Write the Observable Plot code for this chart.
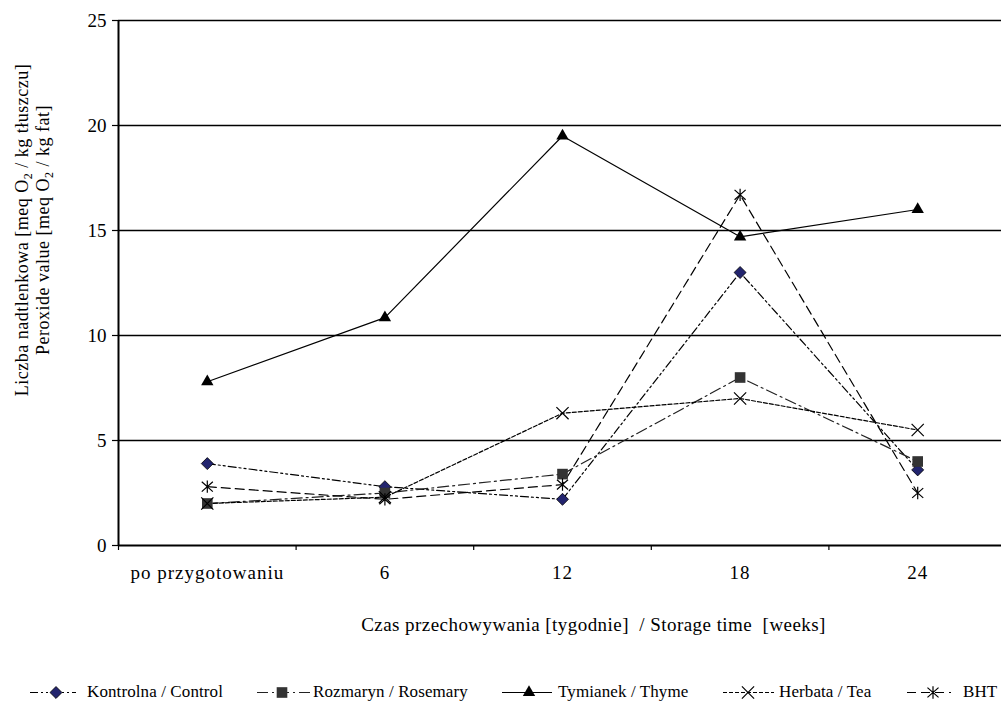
<!DOCTYPE html>
<html><head><meta charset="utf-8">
<script src="https://cdn.jsdelivr.net/npm/d3@7"></script>
<script src="https://cdn.jsdelivr.net/npm/@observablehq/plot@0.6"></script>
<style>
html,body{margin:0;padding:0;background:#fff;overflow:hidden;}
body{font-family:"Liberation Serif","Times New Roman",serif;color:#000;}
#wrap{position:relative;width:1001px;height:702px;overflow:hidden;}
#chart svg{max-width:none !important;}
#legend{position:absolute;left:0;top:678px;width:1001px;height:28px;}
.item{position:absolute;top:0;height:28px;display:flex;align-items:center;font-size:17px;white-space:nowrap;letter-spacing:0.1px;}
.item svg{display:block;}
</style></head><body>
<div id="wrap"><div id="chart"></div><div id="legend"></div></div>
<script>
// ---- data ----
const categories = ["po przygotowaniu", "6", "12", "18", "24"];
const seriesNames = ["Kontrolna / Control", "Rozmaryn / Rosemary", "Tymianek / Thyme", "Herbata / Tea", "BHT"];
const kontrolna = [3.9, 2.8, 2.2, 13.0, 3.6];
const rozmaryn  = [2.0, 2.5, 3.4, 8.0, 4.0];
const tymianek  = [7.8, 10.85, 19.5, 14.7, 16.0];
const herbata   = [2.0, 2.3, 6.3, 7.0, 5.5];
const bht       = [2.8, 2.2, 2.9, 16.7, 2.5];
const yTicks = [0, 5, 10, 15, 20, 25];
const xLabel = "Czas przechowywania [tygodnie]  / Storage time  [weeks]";

const FONT = '"Liberation Serif", "Times New Roman", serif';

// custom asterisk (vertical bar + X)
const asteriskX = {
  draw(ctx, size) {
    const r = Math.sqrt(size) * 0.56;
    ctx.moveTo(0, -r); ctx.lineTo(0, r);
    ctx.moveTo(-0.9 * r, -0.8 * r); ctx.lineTo(0.9 * r, 0.8 * r);
    ctx.moveTo(-0.9 * r, 0.8 * r); ctx.lineTo(0.9 * r, -0.8 * r);
  }
};

const styles = [
  {values: kontrolna, dash: "8,3,2,3,2,3", lineColor: "#000", symbol: "diamond2", r: 5.4, fill: "#22246e", stroke: "#000", sw: 0.8},
  {values: rozmaryn,  dash: "11,4,2,4",    lineColor: "#222", symbol: "square",   r: 6.0, fill: "#333333", stroke: "none", sw: 0},
  {values: tymianek,  dash: null,          lineColor: "#000", symbol: "triangle", r: 4.6, fill: "#000", stroke: "none", sw: 0},
  {values: herbata,   dash: "4,2",         lineColor: "#000", symbol: "times",    r: 5.6, fill: "none", stroke: "#000", sw: 1.2},
  {values: bht,       dash: "9,5",         lineColor: "#000", symbol: asteriskX,  r: 6.2, fill: "none", stroke: "#000", sw: 1.2}
];

const lineMarks = [], dotMarks = [];
styles.forEach((s, k) => {
  const rows = s.values.map((v, i) => ({i, v, name: seriesNames[k]}));
  lineMarks.push(Plot.line(rows, {x: "i", y: "v", stroke: s.lineColor, strokeWidth: 1.2, strokeDasharray: s.dash || undefined}));
  dotMarks.push(Plot.dot(rows, {x: "i", y: "v", symbol: () => s.symbol, r: s.r, fill: s.fill, stroke: s.stroke, strokeWidth: s.sw}));
});

const boundaries = d3.range(categories.length + 1).map(i => i - 0.5);

const plot = Plot.plot({
  width: 1007, height: 660,
  marginLeft: 118, marginRight: 1, marginTop: 20, marginBottom: 115,
  style: {fontFamily: FONT, fontSize: "18px", color: "#000", background: "#fff", maxWidth: "none"},
  x: {type: "linear", domain: [-0.5, categories.length - 0.5]},
  y: {domain: [0, 25]},
  marks: [
    Plot.ruleY(yTicks.filter(t => t > 0), {stroke: "#000", strokeWidth: 1.5}),
    ...lineMarks,
    ...dotMarks,
    Plot.ruleY([0], {stroke: "#000", strokeWidth: 2}),
    Plot.ruleX([-0.5], {stroke: "#000", strokeWidth: 2}),
    Plot.axisY({ticks: yTicks, tickSize: 6, tickPadding: 6, label: null, fontSize: 19, strokeWidth: 1.2}),
    Plot.axisX({ticks: d3.range(categories.length), tickSize: 0, tickPadding: 20, tickFormat: i => categories[i], label: null, fontSize: 19}),
    Plot.axisX({ticks: boundaries, tickSize: 5, tickFormat: () => "", label: null, strokeWidth: 1.2}),
    Plot.text([xLabel], {text: d => d, frameAnchor: "bottom", lineAnchor: "middle", dy: 79, dx: 31, fontSize: 19})
  ]
});
document.getElementById("chart").appendChild(plot);

const svg = d3.select(plot);
// widen text slightly to match the reference typesetting
svg.selectAll('g[aria-label="x-axis tick label"] text').style("letter-spacing", "1px");
svg.selectAll('g[aria-label="text"] text').style("letter-spacing", "0.45px");

// y-axis title with subscripts
const ylines = [
  {x: 28, parts: ["Liczba nadtlenkowa [meq O", "2", " / kg tłuszczu]"]},
  {x: 49, parts: ["Peroxide value [meq O", "2", " / kg fat]"]}
];
ylines.forEach(l => {
  const t = svg.append("text")
    .attr("transform", `translate(${l.x},230) rotate(-90)`)
    .attr("text-anchor", "middle")
    .attr("font-size", 18)
    .attr("fill", "#000")
    .attr("font-family", FONT)
    .style("letter-spacing", "0.5px");
  t.append("tspan").text(l.parts[0]);
  t.append("tspan").attr("font-size", 12).attr("dy", 4).text(l.parts[1]);
  t.append("tspan").attr("dy", -4).text(l.parts[2]);
});

// legend
const legendPos = [
  {sx: 30, sw: 46, mx: 26, tx: 87},
  {sx: 257, sw: 55, mx: 25, tx: 313},
  {sx: 502, sw: 50, mx: 27, tx: 558},
  {sx: 723, sw: 51, mx: 25, tx: 779},
  {sx: 907, sw: 44, mx: 26, tx: 963}
];
const symMap = {diamond2: d3.symbolDiamond2, square: d3.symbolSquare, triangle: d3.symbolTriangle, times: d3.symbolTimes};
const legend = d3.select("#legend");
styles.forEach((s, k) => {
  const p = legendPos[k];
  const item = legend.append("div").attr("class", "item").style("left", p.sx + "px");
  const ls = item.append("svg").attr("width", p.sw).attr("height", 28);
  ls.append("line").attr("x1", 0).attr("x2", p.sw).attr("y1", 14.5).attr("y2", 14.5)
    .attr("stroke", s.lineColor).attr("stroke-width", 1.2).attr("stroke-dasharray", s.dash || null);
  const symType = typeof s.symbol === "string" ? symMap[s.symbol] : s.symbol;
  ls.append("path").attr("d", d3.symbol(symType, s.r * s.r * Math.PI)())
    .attr("transform", `translate(${p.mx},14.5)`)
    .attr("fill", s.fill).attr("stroke", s.stroke).attr("stroke-width", s.sw);
  item.append("span").style("margin-left", (p.tx - p.sx - p.sw) + "px").text(seriesNames[k]);
});
</script>
</body></html>
